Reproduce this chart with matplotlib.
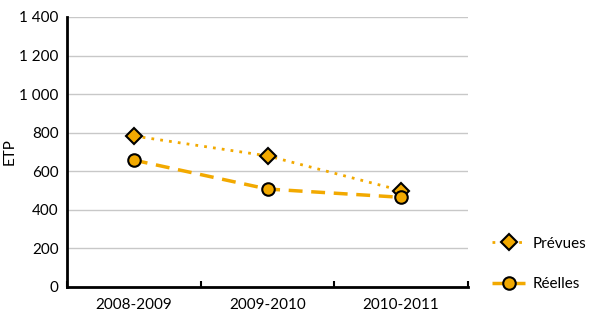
import matplotlib
matplotlib.use("Agg")
import matplotlib.pyplot as plt
import numpy as np

categories = ["2008-2009", "2009-2010", "2010-2011"]
prevues = [783, 680, 500]
reelles = [658, 508, 465]
yticks = [0, 200, 400, 600, 800, 1000, 1200, 1400]
yticklabels = ["0", "200", "400", "600", "800", "1 000", "1 200", "1 400"]

plt.rcParams['font.family'] = ['Lato', 'DejaVu Sans']
gold = "#F2A900"
fs = 11

fig = plt.figure(figsize=(5.95, 3.31), dpi=100)
ax = fig.add_axes([67/595, 1-287/331, (468-67)/595, (287-17)/331])

x = np.arange(len(categories))
l1, = ax.plot(x, prevues, linestyle=(0, (1, 2.2)), color=gold, lw=2,
              marker='D', markersize=8, markerfacecolor=gold,
              markeredgecolor='black', markeredgewidth=1.5, label="Prévues", zorder=3)
l2, = ax.plot(x, reelles, linestyle=(0, (4, 2.5)), color=gold, lw=2.5,
              marker='o', markersize=9, markerfacecolor=gold,
              markeredgecolor='black', markeredgewidth=1.5, label="Réelles", zorder=3)

ax.set_xlim(-0.5, 2.5)
ax.set_ylim(0, 1400)
ax.set_yticks(yticks)
ax.set_yticklabels(yticklabels)
ax.set_xticks(x)
ax.set_xticklabels(categories)
ax.set_xticks([-0.5, 0.5, 1.5, 2.5], minor=True)
ax.tick_params(axis='x', which='major', length=0, pad=8, labelsize=fs)
ax.tick_params(axis='x', which='minor', length=4, width=1.5, direction='in')
ax.tick_params(axis='y', length=0, pad=6, labelsize=fs)
ax.grid(axis='y', color='#c8c8c8', lw=1)
ax.set_axisbelow(True)
for s in ['top', 'right']:
    ax.spines[s].set_visible(False)
for s in ['left', 'bottom']:
    ax.spines[s].set_linewidth(2)
    ax.spines[s].set_color('black')
fig.text(10/595, 1-152/331, "ETP", fontsize=fs, rotation=90, ha='center', va='center')

fig.legend(handles=[l1, l2], loc='upper left', bbox_to_anchor=(478/595, 1-223/331),
           frameon=False, fontsize=fs, labelspacing=1.75, handlelength=2.2,
           handletextpad=0.5)

fig.savefig("out.png", dpi=100)
